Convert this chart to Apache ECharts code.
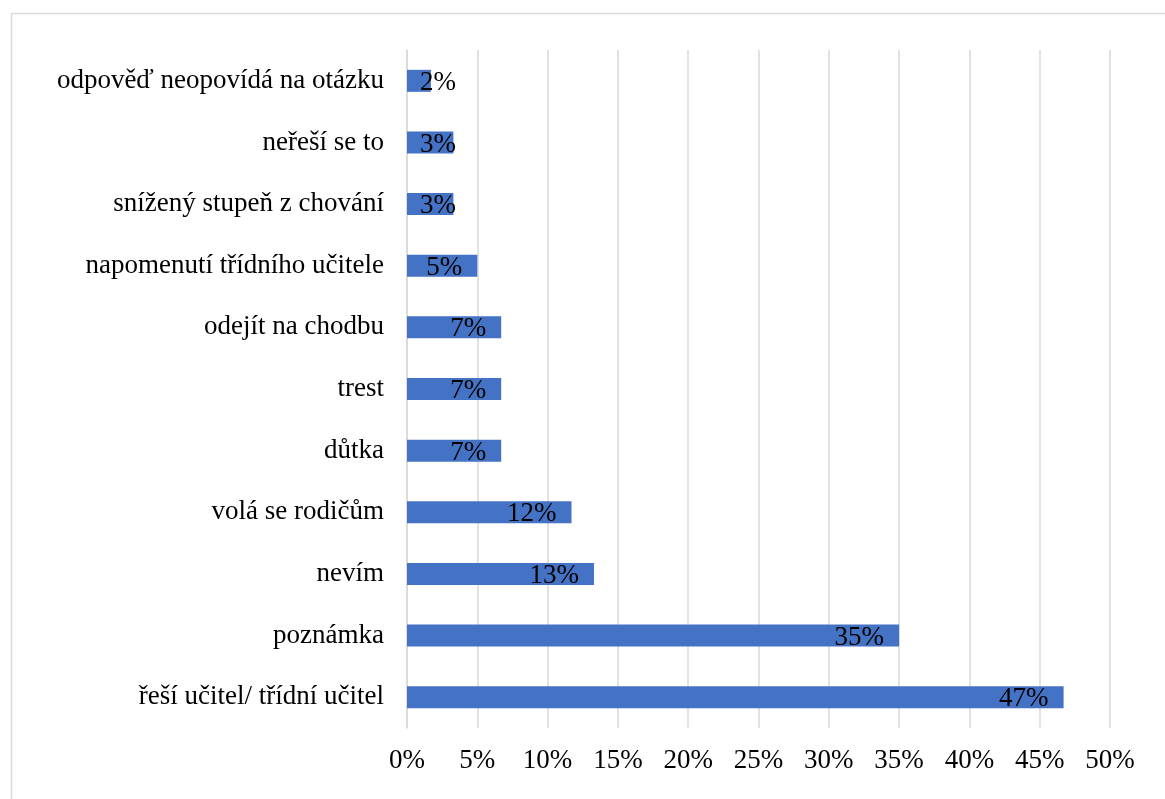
<!DOCTYPE html>
<html>
<head>
<meta charset="utf-8">
<script src="https://cdn.jsdelivr.net/npm/echarts@6/dist/echarts.min.js"></script>
<style>
html,body{margin:0;padding:0;background:#fff;}
#chart{width:1165px;height:799px;}
</style>
</head>
<body>
<div id="chart"></div>
<script>
// Categories listed bottom-to-top (ECharts category order on a vertical axis)
const categories = [
  'řeší učitel/ třídní učitel',
  'poznámka',
  'nevím',
  'volá se rodičům',
  'důtka',
  'trest',
  'odejít na chodbu',
  'napomenutí třídního učitele',
  'snížený stupeň z chování',
  'neřeší se to',
  'odpověď neopovídá na otázku'
];
const values = [46.7, 35.0, 13.3, 11.7, 6.7, 6.7, 6.7, 5.0, 3.3, 3.3, 1.7];
const xTicks = [0, 5, 10, 15, 20, 25, 30, 35, 40, 45, 50];

const FONT = '"Liberation Serif", "Times New Roman", serif';

const chart = echarts.init(document.getElementById('chart'), null, {renderer: 'canvas'});

const seriesData = values.map(v => {
  const item = {value: v};
  if (v < 4) {
    item.label = {position: 'insideLeft', distance: 13};
  }
  return item;
});

chart.setOption({
  animation: false,
  backgroundColor: '#ffffff',
  graphic: [{
    type: 'rect',
    left: 9, top: 11,
    shape: {width: 1300, height: 900},
    style: {fill: 'none', stroke: '#d9d9d9', lineWidth: 1.5},
    silent: true,
    z: -10
  }],
  grid: {left: 407, right: 55, top: 50, bottom: 71, containLabel: false},
  xAxis: {
    type: 'value',
    min: xTicks[0],
    max: xTicks[xTicks.length - 1],
    interval: 5,
    axisLine: {show: false},
    axisTick: {show: false},
    splitLine: {show: true, lineStyle: {color: '#d9d9d9', width: 1.5}},
    axisLabel: {
      formatter: v => v + '%',
      color: '#000',
      fontFamily: FONT,
      fontSize: 27,
      margin: 19
    }
  },
  yAxis: {
    type: 'category',
    data: categories,
    axisLine: {show: true, lineStyle: {color: '#d9d9d9', width: 1.5}},
    axisTick: {show: false},
    axisLabel: {
      color: '#000',
      fontFamily: FONT,
      fontSize: 27,
      margin: 23
    }
  },
  series: [{
    type: 'bar',
    data: seriesData,
    barWidth: 22,
    itemStyle: {color: '#4472C4'},
    label: {
      show: true,
      position: 'insideRight',
      distance: 15,
      offset: [0, 2],
      formatter: p => Math.round(p.value) + '%',
      color: '#000',
      fontFamily: FONT,
      fontSize: 27
    }
  }]
});
</script>
</body>
</html>
